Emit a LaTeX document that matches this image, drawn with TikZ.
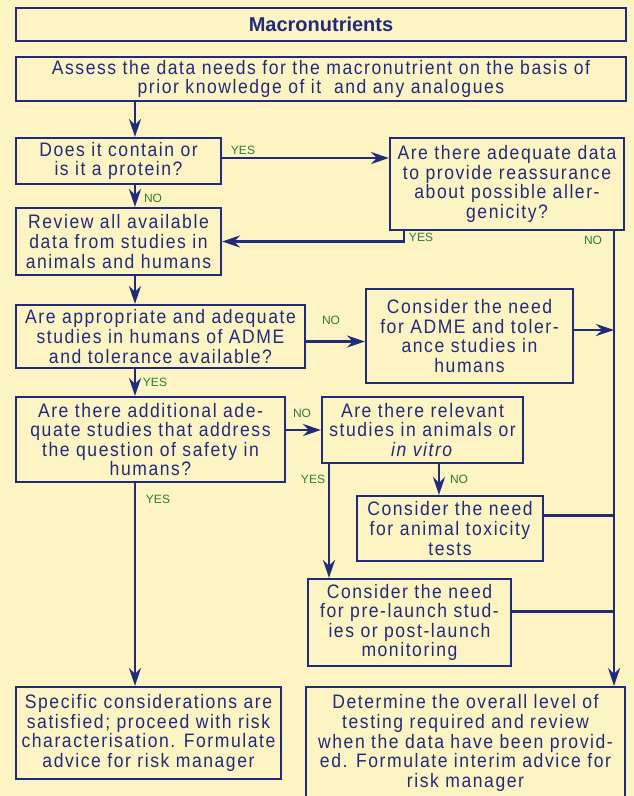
\documentclass[tikz,border=0pt]{standalone}
\usepackage{fontspec}
\setmainfont{Liberation Sans}
\newfontfamily\boxfont{Liberation Sans}[FakeStretch=0.9,LetterSpace=8]
\usetikzlibrary{arrows.meta,calc}
\definecolor{bg}{HTML}{FDF4C3}
\definecolor{navy}{HTML}{222A7C}
\definecolor{lab}{HTML}{2E7B3C}
\begin{document}
\begin{tikzpicture}[x=1pt,y=-1pt,
 box/.style={draw=navy,line width=2.1pt,text=navy,align=center,inner sep=0pt,font=\boxfont\fontsize{19.5}{19.6}\selectfont},
 conn/.style={draw=navy,line width=2.8pt},
 arr/.style={conn,-{Stealth[length=18pt,width=12pt,inset=6pt]}},
 lbl/.style={text=lab,font=\fontsize{12}{13}\selectfont,inner sep=0pt}]
\fill[bg] (0,0) rectangle (634,796);
\useasboundingbox (0,0) rectangle (634,796);
\coordinate (c1) at (135,0);
\coordinate (c2) at (329,0);
\coordinate (c3) at (439,0);
\node[box,minimum width=610,minimum height=33,font=\rmfamily\fontsize{20}{22}\selectfont\bfseries] (title) at (321,24.5) {Macronutrients};
\node[box,minimum width=610,minimum height=44] (assess) at (321,79) {Assess the data needs for the macronutrient on the basis of\\prior knowledge of it\ \ and any analogues};
\node[box,minimum width=205,minimum height=46] (does) at (118.5,161) {Does it contain or\\is it a protein?};
\node[box,minimum width=234,minimum height=92] (allergen) at (507,184) {Are there adequate data\\to provide reassurance\\about possible aller-\\genicity?};
\node[box,minimum width=205,minimum height=67] (review) at (118.5,241.5) {Review all available\\data from studies in\\animals and humans};
\node[box,minimum width=289,minimum height=63] (admeq) at (160.5,336.5) {Are appropriate and adequate\\studies in humans of ADME\\and tolerance available?};
\node[box,minimum width=207,minimum height=94] (admec) at (469.5,336) {Consider the need\\for ADME and toler-\\ance studies in\\humans};
\node[box,minimum width=269,minimum height=85] (addl) at (150.5,439.5) {Are there additional ade-\\quate studies that address\\the question of safety in\\humans?};
\node[box,minimum width=201,minimum height=66] (relevant) at (422.5,430) {Are there relevant\\studies in animals or\\\textit{in vitro}};
\node[box,minimum width=186,minimum height=65] (tox) at (450,528.5) {Consider the need\\for animal toxicity\\tests};
\node[box,minimum width=203,minimum height=87] (prelaunch) at (409.5,622.5) {Consider the need\\for pre-launch stud-\\ies or post-launch\\monitoring};
\node[box,minimum width=265,minimum height=92] (specific) at (148.5,733) {Specific considerations are\\satisfied; proceed with risk\\characterisation. Formulate\\advice for risk manager};
\node[box,minimum width=319,minimum height=112] (determine) at (465.5,743) {Determine the overall level of\\testing required and review\\when the data have been provid-\\ed. Formulate interim advice for\\risk manager};
\coordinate (rl) at ([xshift=-11]allergen.south east);
\draw[arr] (assess.south -| c1) -- (does.north -| c1);
\draw[arr] ([yshift=3]does.east) -- ([yshift=3]does.east -| allergen.west);
\draw[arr] (does.south -| c1) -- (review.north -| c1);
\draw[arr] ([xshift=15]allergen.south west) |- (review.east);
\draw[arr] (rl) -- (rl |- determine.north);
\draw[arr] (review.south -| c1) -- (admeq.north -| c1);
\draw[arr] ([yshift=-5]admeq.east) -- ([yshift=-5]admeq.east -| admec.west);
\draw[arr] ([yshift=6]admec.east) -- ([yshift=6]admec.east -| rl);
\draw[arr] (admeq.south -| c1) -- (addl.north -| c1);
\draw[arr] (addl.east |- relevant.west) -- (relevant.west);
\draw[arr] (relevant.south -| c2) -- (prelaunch.north -| c2);
\draw[arr] (relevant.south -| c3) -- (tox.north -| c3);
\draw[conn] ([yshift=13]tox.east) -- ([yshift=13]tox.east -| rl);
\draw[conn] ([yshift=11]prelaunch.east) -- ([yshift=11]prelaunch.east -| rl);
\draw[arr] (addl.south -| c1) -- (specific.north -| c1);
\node[lbl] (l1) at (243,150) {YES};
\node[lbl] (l2) at (153,198) {NO};
\node[lbl] (l3) at (421,237) {YES};
\node[lbl] (l4) at (593,240) {NO};
\node[lbl] (l5) at (331,320) {NO};
\node[lbl] (l6) at (155,382) {YES};
\node[lbl] (l7) at (302,413) {NO};
\node[lbl] (l8) at (313,479) {YES};
\node[lbl] (l9) at (459,479) {NO};
\node[lbl] (l10) at (158,499) {YES};
\end{tikzpicture}
\end{document}
